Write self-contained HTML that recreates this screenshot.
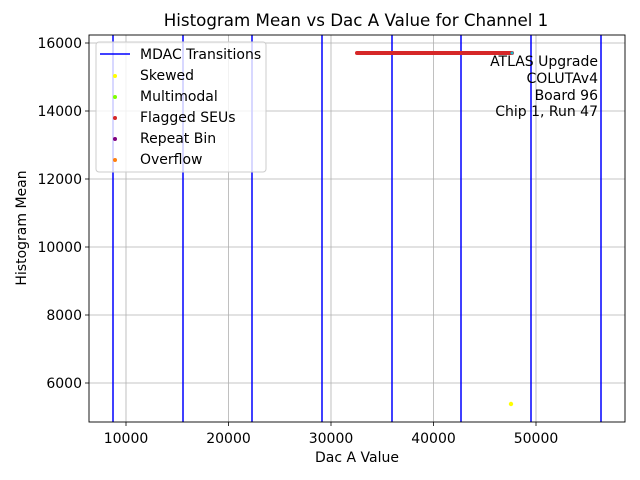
<!DOCTYPE html><html><head><style>body{margin:0;background:#fff}svg{display:block}text{font-family:"DejaVu Sans","Liberation Sans",sans-serif;fill:#000}</style></head><body>
<svg width="640" height="480" viewBox="0 0 640 480">
<rect x="0" y="0" width="640" height="480" fill="#fff"/>
<g stroke="#b0b0b0" stroke-width="0.8">
<line x1="126" y1="35" x2="126" y2="422"/><line x1="228.5" y1="35" x2="228.5" y2="422"/><line x1="331" y1="35" x2="331" y2="422"/><line x1="433.5" y1="35" x2="433.5" y2="422"/><line x1="536" y1="35" x2="536" y2="422"/>
<line x1="89" y1="383" x2="625" y2="383"/><line x1="89" y1="315" x2="625" y2="315"/><line x1="89" y1="247" x2="625" y2="247"/><line x1="89" y1="179" x2="625" y2="179"/><line x1="89" y1="111" x2="625" y2="111"/><line x1="89" y1="43" x2="625" y2="43"/>
</g>
<g stroke="#0000ff" stroke-width="1.5">
<line x1="113" y1="35" x2="113" y2="422"/><line x1="183" y1="35" x2="183" y2="422"/><line x1="252" y1="35" x2="252" y2="422"/><line x1="322" y1="35" x2="322" y2="422"/><line x1="392" y1="35" x2="392" y2="422"/><line x1="461" y1="35" x2="461" y2="422"/><line x1="531" y1="35" x2="531" y2="422"/><line x1="601" y1="35" x2="601" y2="422"/>
</g>
<line x1="357" y1="53" x2="512" y2="53" stroke="#d62728" stroke-width="4" stroke-linecap="round"/>
<circle cx="512" cy="53" r="1.5" fill="#17becf"/>
<circle cx="511" cy="404" r="2.2" fill="#ffff00"/>
<g font-size="14" text-anchor="end">
<text x="598" y="66">ATLAS Upgrade</text><text x="598" y="83">COLUTAv4</text><text x="598" y="100">Board 96</text><text x="598" y="116">Chip 1, Run 47</text>
</g>
<rect x="89" y="35" width="536" height="387" fill="none" stroke="#000" stroke-width="0.9"/>
<g stroke="#000" stroke-width="0.8">
<line x1="126" y1="422" x2="126" y2="426"/><line x1="228.5" y1="422" x2="228.5" y2="426"/><line x1="331" y1="422" x2="331" y2="426"/><line x1="433.5" y1="422" x2="433.5" y2="426"/><line x1="536" y1="422" x2="536" y2="426"/>
<line x1="85" y1="383" x2="89" y2="383"/><line x1="85" y1="315" x2="89" y2="315"/><line x1="85" y1="247" x2="89" y2="247"/><line x1="85" y1="179" x2="89" y2="179"/><line x1="85" y1="111" x2="89" y2="111"/><line x1="85" y1="43" x2="89" y2="43"/>
</g>
<g font-size="14" text-anchor="middle">
<text x="126" y="443">10000</text><text x="228.5" y="443">20000</text><text x="331" y="443">30000</text><text x="433.5" y="443">40000</text><text x="536" y="443">50000</text>
<text x="357" y="462">Dac A Value</text>
<text x="356" y="26" font-size="16.7">Histogram Mean vs Dac A Value for Channel 1</text>
</g>
<g font-size="14" text-anchor="end">
<text x="82" y="388">6000</text><text x="82" y="320">8000</text><text x="82" y="252">10000</text><text x="82" y="184">12000</text><text x="82" y="116">14000</text><text x="82" y="48">16000</text>
</g>
<text font-size="14" text-anchor="middle" transform="translate(26,228) rotate(-90)">Histogram Mean</text>
<rect x="96" y="42" width="170" height="130" rx="3" fill="#fff" fill-opacity="0.8" stroke="#ccc" stroke-width="1"/>
<line x1="100" y1="54" x2="130" y2="54" stroke="#0000ff" stroke-width="1.5"/>
<circle cx="115" cy="76" r="2" fill="#ffff00"/><circle cx="115" cy="97" r="2" fill="#7fff00"/><circle cx="115" cy="118" r="2" fill="#d62728"/><circle cx="115" cy="139" r="2" fill="#800080"/><circle cx="115" cy="160" r="2" fill="#ff7f0e"/>
<g font-size="14">
<text x="140" y="59">MDAC Transitions</text><text x="140" y="80">Skewed</text><text x="140" y="101">Multimodal</text><text x="140" y="122">Flagged SEUs</text><text x="140" y="143">Repeat Bin</text><text x="140" y="164">Overflow</text>
</g>
</svg></body></html>
